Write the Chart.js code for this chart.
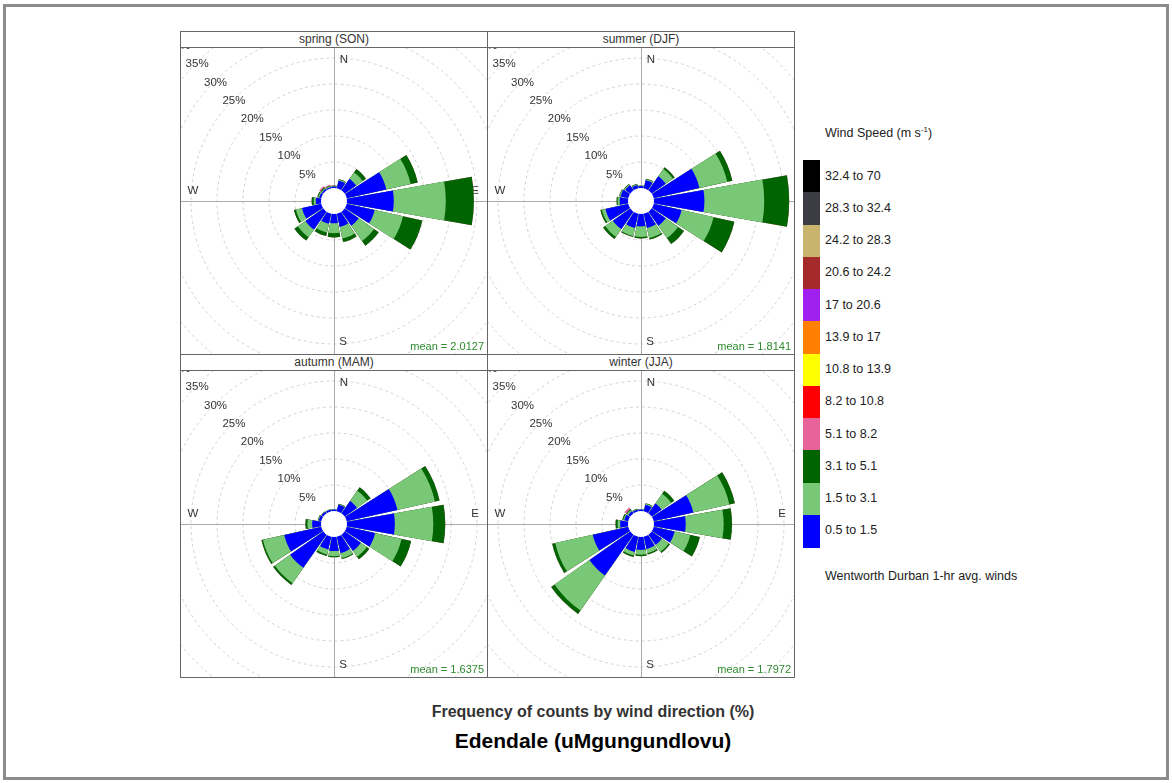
<!DOCTYPE html>
<html>
<head>
<meta charset="utf-8">
<script src="https://cdn.jsdelivr.net/npm/chart.js@4.4.1/dist/chart.umd.min.js"></script>
<style>
  body { margin: 0; width: 1172px; height: 783px; background: #fff; position: relative; overflow: hidden;
         font-family: "Liberation Sans", Arial, sans-serif; }
  #frame { position: absolute; left: 3px; top: 4px; width: 1166px; height: 776px; border: 3px solid #8c8c8c; box-sizing: border-box; }
  .panel { position: absolute; width: 308px; height: 324px; border: 1px solid #666; box-sizing: border-box; background: #fff; }
  .strip { height: 15px; border-bottom: 1px solid #666; font-size: 12px; line-height: 15px; text-align: center; color: #333; }
  .plot { position: relative; width: 306px; height: 306px; overflow: hidden; }
  .plot canvas { position: absolute; left: -68px; top: -68px; }
  .mean { position: absolute; right: 3px; bottom: 2px; font-size: 11px; color: #2e8b2e; }
  #legend { position: absolute; left: 803px; top: 160px; }
  .key { position: absolute; left: 0; width: 17px; }
  .keylab { position: absolute; left: 22px; font-size: 12.5px; color: #222; white-space: nowrap; }
  .note { position: absolute; left: 825px; font-size: 12.5px; color: #222; white-space: nowrap; }
  .foot { position: absolute; left: 0; width: 1186px; text-align: center; font-weight: bold; white-space: nowrap; }
</style>
</head>
<body>
<div id="frame"></div>
<div id="panels"></div>
<div class="note" style="top:125px">Wind Speed (m s<sup style="font-size:8px">-1</sup>)</div>
<div id="legend"></div>
<div class="note" style="top:569px">Wentworth Durban 1-hr avg. winds</div>
<div class="foot" style="top:703px;font-size:16px;color:#333">Frequency of counts by wind direction (%)</div>
<div class="foot" style="top:729px;font-size:21px;color:#000">Edendale (uMgungundlovu)</div>
<script>
const directions = ['N', 'NNE', 'NE', 'ENE', 'E', 'ESE', 'SE', 'SSE', 'S', 'SSW', 'SW', 'WSW', 'W', 'WNW', 'NW', 'NNW'];
const speedBands = ['0.5 to 1.5', '1.5 to 3.1', '3.1 to 5.1', '5.1 to 8.2', '8.2 to 10.8', '10.8 to 13.9',
  '13.9 to 17', '17 to 20.6', '20.6 to 24.2', '24.2 to 28.3', '28.3 to 32.4', '32.4 to 70'];
const bandColors = ['#0000ff', '#78c878', '#006400', '#e7649b', '#ff0000', '#ffff00',
  '#ff8000', '#a020f0', '#a52a2a', '#c9b46e', '#3c3c44', '#000000'];
const seasons = ['spring (SON)', 'summer (DJF)', 'autumn (MAM)', 'winter (JJA)'];
const seasonMeans = ['2.0127', '1.8141', '1.6375', '1.7972'];
const ringValues = [5, 10, 15, 20, 25, 30, 35, 40];

// frequency (%) of each speed band, by direction N..NNW
const springSlow = [0.3, 1.5, 2.7, 7.8, 9.0, 5.5, 3.3, 2.6, 1.8, 2.0, 4.2, 3.8, 1.0, 0.4, 0.3, 0.2];
const springLight = [0.1, 0.2, 1.5, 4.8, 10.0, 5.6, 3.6, 2.3, 1.9, 1.7, 1.8, 1.2, 0.4, 0.2, 0.2, 0.2];
const springModerate = [0.1, 0.1, 0.8, 1.4, 5.4, 3.8, 1.1, 0.7, 0.8, 0.7, 0.8, 0.4, 0.4, 0.2, 0.2, 0.1];
const springFresh = [0, 0, 0, 0, 0, 0, 0, 0, 0, 0, 0, 0, 0, 0, 0.3, 0.2];

const summerSlow = [0.4, 1.6, 3.3, 9.0, 9.7, 5.5, 3.3, 2.8, 2.4, 2.8, 4.1, 4.5, 1.6, 1.5, 1.2, 0.6];
const summerLight = [0.1, 0.2, 1.7, 5.5, 11.5, 6.3, 2.9, 2.0, 2.0, 1.6, 1.8, 0.7, 0.4, 0.2, 0.2, 0.2];
const summerModerate = [0, 0.1, 0.4, 1.0, 4.8, 4.1, 1.4, 0.3, 0.3, 0.2, 0.5, 0.3, 0.2, 0.1, 0.1, 0.1];
const summerFresh = [0, 0, 0, 0, 0, 0, 0, 0, 0, 0, 0, 0, 0, 0, 0, 0];

const autumnSlow = [0.3, 1.3, 2.9, 10.0, 9.2, 5.6, 3.8, 3.2, 2.7, 2.5, 7.8, 7.3, 1.7, 0.5, 0.4, 0.3];
const autumnLight = [0.1, 0.1, 2.4, 7.4, 7.4, 5.2, 1.4, 1.0, 1.0, 1.0, 3.6, 4.2, 0.9, 0.1, 0.1, 0.1];
const autumnModerate = [0, 0.1, 0.8, 0.9, 2.3, 1.9, 0.6, 0.2, 0.2, 0.3, 0.4, 0.3, 0.4, 0.1, 0, 0];
const autumnFresh = [0, 0, 0, 0, 0, 0, 0, 0, 0, 0, 0, 0, 0, 0, 0, 0];

const winterSlow = [0.3, 1.3, 2.3, 7.8, 6.1, 4.1, 2.4, 2.4, 2.5, 3.0, 9.6, 7.0, 1.5, 0.8, 0.5, 0.3];
const winterLight = [0.1, 0.2, 2.3, 7.1, 7.3, 3.1, 1.6, 0.8, 0.9, 0.7, 8.2, 7.4, 0.5, 0.2, 0.3, 0.1];
const winterModerate = [0, 0.1, 0.7, 1.1, 1.6, 1.9, 0.3, 0.3, 0.3, 0.3, 0.8, 0.6, 0.4, 0.2, 0.2, 0.1];
const winterFresh = [0, 0, 0, 0, 0, 0, 0, 0, 0, 0, 0, 0, 0, 0, 0.4, 0];

const seasonBands = [
  [springSlow, springLight, springModerate, springFresh],
  [summerSlow, summerLight, summerModerate, summerFresh],
  [autumnSlow, autumnLight, autumnModerate, autumnFresh],
  [winterSlow, winterLight, winterModerate, winterFresh],
];

const PETAL_ANGLE = 20;
const GAP_ANGLE = 2.5;
const FONT = '"Liberation Sans", Arial, sans-serif';

const panelPos = [[180, 31], [487, 31], [180, 354], [487, 354]];

// legend keys, highest band on top
const legend = document.getElementById('legend');
const keyH = 32.25;
speedBands.slice().reverse().forEach((label, i) => {
  const color = bandColors[speedBands.length - 1 - i];
  const key = document.createElement('div');
  key.className = 'key';
  key.style.top = `${i * keyH}px`;
  key.style.height = `${keyH + 0.5}px`;
  key.style.background = color;
  legend.appendChild(key);
  const lab = document.createElement('div');
  lab.className = 'keylab';
  lab.style.top = `${i * keyH + keyH / 2 - 7.5}px`;
  lab.textContent = label;
  legend.appendChild(lab);
});

const roseDecor = {
  id: 'roseDecor',
  beforeDatasetsDraw(chart) {
    const scale = chart.scales.r;
    const ctx = chart.ctx;
    const cx = scale.xCenter;
    const cy = scale.yCenter;
    ctx.save();
    ctx.strokeStyle = '#ababab';
    ctx.lineWidth = 1;
    ctx.beginPath();
    ctx.moveTo(cx + 0.5, 0);
    ctx.lineTo(cx + 0.5, chart.height);
    ctx.moveTo(0, cy + 0.5);
    ctx.lineTo(chart.width, cy + 0.5);
    ctx.stroke();

    ctx.font = `11.5px ${FONT}`;
    ctx.fillStyle = '#333';
    ctx.textAlign = 'center';
    ctx.textBaseline = 'middle';
    ringValues.forEach((v) => {
      const d = scale.getDistanceFromCenterForValue(v) * Math.SQRT1_2;
      ctx.fillText(`${v}%`, cx - d + 1, cy - d + 1);
    });
    const rr = 141;
    ctx.fillText('N', cx + 10, cy - rr);
    ctx.fillText('S', cx + 9, cy + rr);
    ctx.fillText('W', cx - rr, cy - 10);
    ctx.fillText('E', cx + rr, cy - 10);
    ctx.restore();
  },
  afterDatasetsDraw(chart) {
    const scale = chart.scales.r;
    const ctx = chart.ctx;
    ctx.save();
    ctx.fillStyle = '#fff';
    ctx.beginPath();
    ctx.arc(scale.xCenter, scale.yCenter, scale.getDistanceFromCenterForValue(0), 0, Math.PI * 2);
    ctx.fill();
    ctx.restore();
  },
};

const panels = document.getElementById('panels');

seasons.forEach((season, s) => {
  const [left, top] = panelPos[s];
  const panel = document.createElement('div');
  panel.className = 'panel';
  panel.style.left = `${left}px`;
  panel.style.top = `${top}px`;
  panel.innerHTML = `<div class="strip">${season}</div><div class="plot"><canvas width="442" height="442"></canvas>`
    + `<div class="mean">mean = ${seasonMeans[s]}</div></div>`;
  panels.appendChild(panel);

  // stack bands: cumulative totals, interleaved with empty gap slots
  const bands = seasonBands[s];
  const running = directions.map(() => 0);
  const datasets = bands.map((band, b) => {
    band.forEach((v, i) => { running[i] += v; });
    const data = [];
    running.forEach((v) => { data.push(v, 0); });
    return {
      label: speedBands[b],
      data,
      backgroundColor: (ctx) => (ctx.dataIndex % 2 === 0 ? bandColors[b] : 'rgba(0,0,0,0)'),
      borderWidth: 0,
      angle: (ctx) => (ctx.dataIndex % 2 === 0 ? PETAL_ANGLE : GAP_ANGLE),
    };
  });

  const labels = [];
  directions.forEach((d) => { labels.push(d, ''); });

  new Chart(panel.querySelector('canvas'), {
    type: 'polarArea',
    data: { labels, datasets },
    options: {
      responsive: false,
      animation: false,
      events: [],
      layout: { padding: 0 },
      plugins: { legend: { display: false }, tooltip: { enabled: false } },
      scales: {
        r: {
          min: -2.5,
          max: 40,
          startAngle: -PETAL_ANGLE / 2,
          ticks: { display: false },
          grid: { circular: true, color: '#d2d2d2', lineWidth: 1 },
          border: { dash: [3, 3] },
          angleLines: { display: false },
          pointLabels: { display: false },
          afterBuildTicks: (scale) => { scale.ticks = ringValues.map((v) => ({ value: v })); },
        },
      },
    },
    plugins: [roseDecor],
  });
});
</script>
</body>
</html>
